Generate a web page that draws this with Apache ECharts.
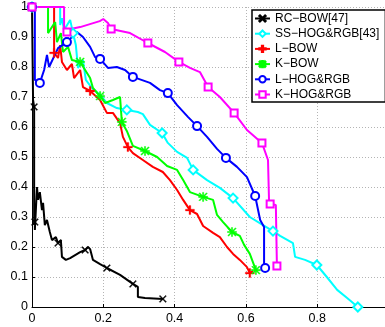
<!DOCTYPE html>
<html>
<head>
<meta charset="utf-8">
<script src="https://cdn.jsdelivr.net/npm/echarts@6/dist/echarts.min.js"></script>
<style>
  html, body { margin: 0; padding: 0; background: #fff; }
  #chart { width: 385px; height: 327px; }
</style>
</head>
<body>
<div id="chart"></div>
<script>
// recall / precision pairs
const rcBow = [[0,1],[0.003,0.69],[0.006,0.667],[0.006,0.273],[0.008,0.283],[0.008,0.257],[0.014,0.40],[0.017,0.357],[0.022,0.383],[0.028,0.323],[0.031,0.347],[0.036,0.273],[0.042,0.29],[0.05,0.25],[0.056,0.223],[0.067,0.233],[0.073,0.213],[0.081,0.223],[0.084,0.167],[0.095,0.157],[0.107,0.163],[0.135,0.183],[0.149,0.19],[0.157,0.20],[0.163,0.193],[0.171,0.157],[0.191,0.143],[0.21,0.13],[0.247,0.107],[0.283,0.077],[0.297,0.067],[0.297,0.033],[0.317,0.03],[0.367,0.027]]
const rcBowMarks = [2, 4, 16, 22, 27, 29, 33]

const ssHog = [[0,1],[0.079,1],[0.079,0.94],[0.084,0.963],[0.09,0.923],[0.107,0.957],[0.115,0.913],[0.123,0.873],[0.129,0.797],[0.143,0.823],[0.151,0.757],[0.168,0.73],[0.191,0.707],[0.21,0.68],[0.238,0.663],[0.266,0.657],[0.297,0.65],[0.311,0.643],[0.331,0.607],[0.365,0.58],[0.381,0.547],[0.407,0.517],[0.435,0.497],[0.452,0.457],[0.491,0.423],[0.527,0.397],[0.564,0.363],[0.611,0.30],[0.648,0.273],[0.676,0.253],[0.696,0.237],[0.732,0.213],[0.738,0.167],[0.766,0.157],[0.799,0.14],[0.827,0.10],[0.856,0.057],[0.884,0.03],[0.914,0.0]]
const ssHogMarks = [0, 6, 15, 19, 23, 26, 29, 34, 38]

const lBow = [[0,1],[0.062,1],[0.062,0.847],[0.073,0.83],[0.079,0.873],[0.084,0.817],[0.098,0.79],[0.112,0.81],[0.118,0.763],[0.135,0.79],[0.143,0.733],[0.163,0.72],[0.191,0.69],[0.21,0.647],[0.227,0.647],[0.247,0.613],[0.255,0.567],[0.269,0.533],[0.283,0.513],[0.311,0.49],[0.339,0.467],[0.367,0.45],[0.387,0.423],[0.407,0.39],[0.424,0.357],[0.443,0.323],[0.463,0.31],[0.48,0.27],[0.508,0.247],[0.527,0.233],[0.547,0.20],[0.564,0.177],[0.583,0.157],[0.603,0.133],[0.611,0.113],[0.62,0.12]]
const lBowMarks = [0, 2, 11, 17, 25, 34]

const kBow = [[0,1],[0.045,1],[0.045,0.913],[0.065,0.95],[0.07,0.883],[0.081,0.913],[0.087,0.85],[0.101,0.867],[0.112,0.823],[0.135,0.817],[0.149,0.79],[0.163,0.763],[0.171,0.73],[0.191,0.703],[0.205,0.68],[0.227,0.69],[0.247,0.70],[0.252,0.617],[0.266,0.587],[0.283,0.537],[0.317,0.52],[0.351,0.50],[0.379,0.47],[0.407,0.457],[0.424,0.423],[0.443,0.383],[0.48,0.367],[0.508,0.357],[0.519,0.307],[0.536,0.283],[0.561,0.25],[0.583,0.237],[0.595,0.207],[0.611,0.177],[0.628,0.123]]
const kBowMarks = [0, 9, 13, 17, 20, 26, 30, 34]

const lHog = [[0,1],[0.008,1],[0.008,0.757],[0.022,0.747],[0.034,0.79],[0.042,0.84],[0.048,0.80],[0.073,0.863],[0.098,0.883],[0.126,0.917],[0.143,0.90],[0.163,0.867],[0.177,0.833],[0.191,0.827],[0.213,0.797],[0.238,0.80],[0.261,0.79],[0.283,0.767],[0.331,0.747],[0.359,0.723],[0.381,0.713],[0.407,0.673],[0.438,0.633],[0.463,0.603],[0.491,0.567],[0.519,0.527],[0.544,0.497],[0.575,0.467],[0.603,0.433],[0.626,0.37],[0.64,0.29],[0.651,0.267],[0.651,0.13],[0.654,0.13]]
const lHogMarks = [0, 3, 8, 13, 17, 20, 23, 26, 29, 33]

const kHog = [[0,1],[0.09,1],[0.09,0.933],[0.095,0.923],[0.098,0.917],[0.135,0.933],[0.19,0.953],[0.2,0.96],[0.213,0.947],[0.222,0.927],[0.275,0.913],[0.325,0.88],[0.373,0.85],[0.412,0.817],[0.443,0.797],[0.471,0.783],[0.494,0.733],[0.527,0.70],[0.567,0.647],[0.603,0.59],[0.645,0.547],[0.662,0.49],[0.665,0.35],[0.668,0.343],[0.684,0.34],[0.687,0.137]]
const kHogMarks = [0, 4, 9, 11, 13, 16, 18, 20, 23, 25]

const names = ["RC\u2212BOW[47]", "SS\u2212HOG&RGB[43]", "L\u2212BOW", "K\u2212BOW", "L\u2212HOG&RGB", "K\u2212HOG&RGB"]

const plusPath = "path://M4,0H6V4H10V6H6V10H4V6H0V4H4Z"
const crossPath = "path://M1,0L5,4L9,0L10,1L6,5L10,9L9,10L5,6L1,10L0,9L4,5L0,1Z"
const starPath = "path://M4.4,0H5.6V10H4.4Z M0,4.4H10V5.6H0Z M1.2,0.4L5,4.2L8.8,0.4L9.6,1.2L5.8,5L9.6,8.8L8.8,9.6L5,5.8L1.2,9.6L0.4,8.8L4.2,5L0.4,1.2Z"

const font = "Liberation Sans"

function curve(name, data, marks, color, symbol, size, border) {
  return {
    name: name,
    type: "line",
    data: data,
    symbol: symbol,
    symbolSize: (v, p) => (marks.includes(p.dataIndex) ? size : 0),
    showSymbol: true,
    lineStyle: { width: 2, color: color },
    itemStyle: { color: color, borderColor: color, borderWidth: border },
    emphasis: { disabled: true },
    animation: false
  }
}

const chart = echarts.init(document.getElementById("chart"), null, { renderer: "canvas" })

const axisCommon = {
  type: "value",
  min: 0,
  max: 1,
  axisLine: { show: true, onZero: false, lineStyle: { color: "#000", width: 1 } },
  axisTick: { show: true, inside: true, length: 3, lineStyle: { color: "#000" } },
  axisLabel: { color: "#000", fontSize: 12.5, fontFamily: font },
  splitLine: { show: true, lineStyle: { color: "#b4b4b4", width: 1, type: [1, 2] } }
}

chart.setOption({
  backgroundColor: "#fff",
  animation: false,
  grid: { left: 32, top: 7, width: 356.5, height: 300, containLabel: false, outerBoundsMode: "none" },
  xAxis: Object.assign({}, axisCommon, {
    interval: 0.2,
    axisLabel: Object.assign({}, axisCommon.axisLabel, { margin: 5 })
  }),
  yAxis: Object.assign({}, axisCommon, {
    interval: 0.1,
    axisLabel: Object.assign({}, axisCommon.axisLabel, { margin: 4 })
  }),
  legend: {
    orient: "vertical",
    left: 252,
    top: 10,
    data: names,
    itemWidth: 15,
    itemHeight: 8,
    itemGap: 2.2,
    padding: [2, 6, 1, 2],
    backgroundColor: "#fff",
    borderColor: "#000",
    borderWidth: 1.5,
    borderRadius: 0,
    textStyle: { fontSize: 12, fontFamily: font, color: "#000", lineHeight: 13 }
  },
  series: [
    curve(names[0], rcBow, rcBowMarks, "#000000", crossPath, 7, 0.5),
    curve(names[1], ssHog, ssHogMarks, "#00ffff", "emptyDiamond", 9, 1.5),
    curve(names[2], lBow, lBowMarks, "#ff0000", plusPath, 9, 0.3),
    curve(names[3], kBow, kBowMarks, "#00ff00", starPath, 9, 0.5),
    curve(names[4], lHog, lHogMarks, "#0000ff", "emptyCircle", 8, 1.5),
    curve(names[5], kHog, kHogMarks, "#ff00ff", "emptyRect", 7, 1.5)
  ]
})
</script>
</body>
</html>
